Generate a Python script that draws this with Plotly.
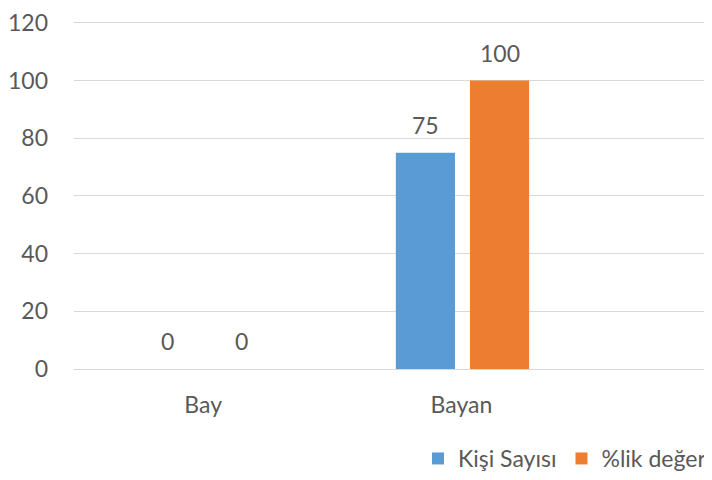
import plotly.graph_objects as go

categories = ["Bay", "Bayan"]
kisi_sayisi = [0, 75]
yuzde_deger = [0, 100]
series_names = ["Kişi Sayısı", "%lik değer"]
colors = ["#5B9BD5", "#ED7D31"]
y_ticks = [0, 20, 40, 60, 80, 100, 120]

FONT = "Lato"
TXT = "#595959"
GRID = "#D9D9D9"
FS = 23

bar_w = 0.229
offsets = [-0.254, 0.033]
series = [kisi_sayisi, yuzde_deger]

fig = go.Figure()
for name, vals, col, off in zip(series_names, series, colors, offsets):
    fig.add_trace(go.Bar(
        x=list(range(len(categories))), y=vals, name=name,
        marker=dict(color=col, line=dict(width=0)),
        width=bar_w, offset=off,
    ))

annotations = []
for vals, off in zip(series, offsets):
    for i, v in enumerate(vals):
        annotations.append(dict(
            x=i + off + bar_w / 2, y=v, xref="x", yref="y",
            text=str(v), showarrow=False, yanchor="middle", yshift=28,
            font=dict(family=FONT, size=FS, color=TXT),
        ))

fig.update_layout(
    width=704, height=472,
    margin=dict(l=66, r=0, t=7, b=110),
    paper_bgcolor="white", plot_bgcolor="white",
    barmode="overlay",
    showlegend=True,
    legend=dict(orientation="h", x=1.0, xanchor="right", y=-0.2565, yanchor="middle",
                font=dict(family=FONT, size=FS, color=TXT),
                itemwidth=30, tracegroupgap=0, borderwidth=0,
                bgcolor="rgba(0,0,0,0)"),
    annotations=annotations,
    xaxis=dict(
        tickmode="array", tickvals=list(range(len(categories))), ticktext=categories,
        range=[-0.5, 1.97], showgrid=False, zeroline=False, showline=False,
        tickfont=dict(family=FONT, size=FS, color=TXT), ticks="",
        ticklabelstandoff=20,
    ),
    yaxis=dict(
        range=[0, 121], tickvals=y_ticks, showgrid=True, gridcolor=GRID, gridwidth=1.3,
        zeroline=True, zerolinecolor=GRID, zerolinewidth=1.3, showline=False,
        tickfont=dict(family=FONT, size=FS, color=TXT), ticks="",
        ticklabelstandoff=25, ticklabeloverflow="allow",
    ),
    font=dict(family=FONT, color=TXT),
)

fig.write_html("out.html")
